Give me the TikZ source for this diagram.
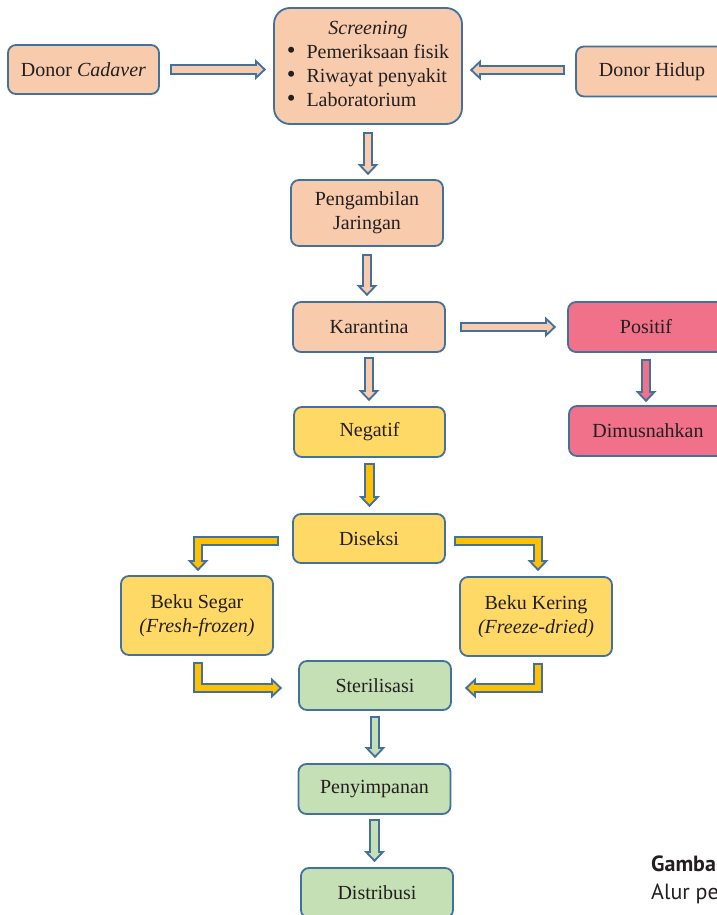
\documentclass[tikz,border=0pt]{standalone}
\usepackage{fontspec}
\setmainfont{Liberation Serif}
\newfontfamily\captionfont{PT Sans}
\usetikzlibrary{arrows.meta}

\definecolor{edgeblue}{HTML}{41719C}
\definecolor{peach}{HTML}{F8CBAD}
\definecolor{rosepink}{HTML}{F07189}
\definecolor{lightgold}{HTML}{FFD966}
\definecolor{gold}{HTML}{FFC000}
\definecolor{sage}{HTML}{C5E0B4}
\definecolor{inktext}{HTML}{231F20}

\newcommand\dotitem{{\fontsize{25}{24}\selectfont\textbullet}}

\tikzset{
    box/.style={draw=edgeblue,
        line width=1.8pt,
        rounded corners=8pt,
        fill=#1,
        minimum width=152pt,
        minimum height=50pt,
        inner sep=2pt,
        align=center,
        text=inktext,
        font=\fontsize{20}{24}\selectfont},
    blockarrow/.style={draw=#1,
        line width=6.5pt,
        line join=miter,
        shorten <=2pt,
        shorten >=2.9pt,
        -{Triangle[length=6.1pt,width=11.6pt,line width=0pt]},
        preaction={draw=edgeblue, line width=10.5pt,
            shorten <=0pt, shorten >=0pt,
            -{Triangle[length=11pt,width=21pt,line width=0pt]}}},
    caption/.style={anchor=base west,
        inner sep=0pt,
        text=inktext,
        font=\captionfont\fontsize{22}{26}\selectfont}
}

\begin{document}
\begin{tikzpicture}[x=1pt,y=-1pt]
\useasboundingbox (0,0) rectangle (717,915);
\clip (0,0) rectangle (717,915);

\node[box=peach, minimum width=151pt, minimum height=49pt] (cadaver) at (83.5,69.5) {Donor \textit{Cadaver}};
\node[box=peach,
    minimum width=188pt,
    minimum height=116pt,
    rounded corners=16pt
] (screening) at (368,66) {\begin{tabular}{@{}l@{\hspace{11pt}}l@{}}
    \multicolumn{2}{c}{\textit{Screening}}\\
    \dotitem & Pemeriksaan fisik\\
    \dotitem & Riwayat penyakit\\
    \dotitem & Laboratorium
\end{tabular}};
\node[box=peach] (living) at (652,71.5) {Donor Hidup};
\node[box=peach, minimum height=66pt] (harvest) at (367,213) {Pengambilan\\Jaringan};
\node[box=peach] (quarantine) at (369,327) {Karantina};
\node[box=rosepink, minimum width=156pt] (positive) at (646,327) {Positif};
\node[box=lightgold, minimum width=151pt] (negative) at (369.5,432) {Negatif};
\node[box=rosepink, minimum width=158pt] (destroyed) at (648,431) {Dimusnahkan};
\node[box=lightgold, minimum height=49pt] (dissection) at (369,538.5) {Diseksi};
\node[box=lightgold, minimum height=79pt] (frozen) at (197,615.5) {Beku Segar\\\textit{(Fresh-frozen)}};
\node[box=lightgold, minimum height=79pt] (dried) at (536,616.5) {Beku Kering\\\textit{(Freeze-dried)}};
\node[box=sage, minimum height=49pt] (sterile) at (375,685.5) {Sterilisasi};
\node[box=sage] (storage) at (374.5,789) {Penyimpanan};
\node[box=sage] (distribution) at (377,893) {Distribusi};

\draw[blockarrow=peach] ([xshift=10pt]cadaver.east) -- ([xshift=-7pt]cadaver.east -| screening.west);
\draw[blockarrow=peach] ([xshift=-10pt,yshift=1.5pt]living.west) -- ([xshift=7pt,yshift=1.5pt]living.west -| screening.east);
\draw[blockarrow=peach] ([yshift=-7pt]screening.south) -- ([yshift=4pt]screening.south |- harvest.north);
\draw[blockarrow=peach] ([yshift=-7pt]harvest.south) -- ([yshift=5pt]harvest.south |- quarantine.north);
\draw[blockarrow=peach] ([xshift=14pt]quarantine.east) -- ([xshift=-11pt]quarantine.east -| positive.west);
\draw[blockarrow=peach] ([yshift=-4pt]quarantine.south) -- ([yshift=5pt]quarantine.south |- negative.north);
\draw[blockarrow=rosepink] ([yshift=-6pt]positive.south) -- ([yshift=3pt]positive.south |- destroyed.north);
\draw[blockarrow=gold] ([yshift=-5pt]negative.south) -- ([yshift=6pt]negative.south |- dissection.north);
\draw[blockarrow=gold] ([xshift=-13pt,yshift=-2.5pt]dissection.west) -| ([xshift=1pt,yshift=4pt]frozen.north);
\draw[blockarrow=gold] ([xshift=8pt,yshift=-2.5pt]dissection.east) -| ([xshift=2pt,yshift=5pt]dried.north);
\draw[blockarrow=gold] ([xshift=1pt,yshift=-6pt]frozen.south) |- ([xshift=-16pt,yshift=-2.5pt]sterile.west);
\draw[blockarrow=gold] ([xshift=2pt,yshift=-6pt]dried.south) |- ([xshift=13pt,yshift=-2.5pt]sterile.east);
\draw[blockarrow=sage] ([yshift=-5pt]sterile.south) -- ([yshift=5pt]sterile.south |- storage.north);
\draw[blockarrow=sage] ([yshift=-4pt]storage.south) -- ([yshift=5pt]storage.south |- distribution.north);

\node[caption, font=\captionfont\bfseries\fontsize{22}{26}\selectfont] (captitle) at (651,871) {Gamba};
\node[caption] (capline) at (651,899) {Alur pe};
\end{tikzpicture}
\end{document}
